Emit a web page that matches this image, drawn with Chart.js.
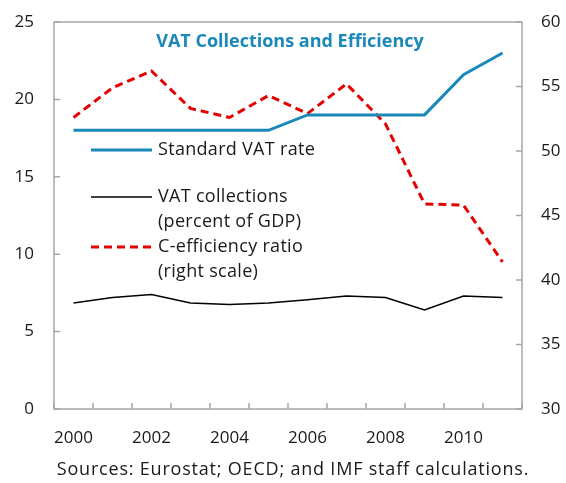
<!DOCTYPE html>
<html>
<head>
<meta charset="utf-8">
<script src="https://cdn.jsdelivr.net/npm/chart.js@4"></script>
<style>
  html, body { margin: 0; padding: 0; background: #fff; }
  #wrap { width: 566px; height: 483px; }
</style>
</head>
<body>
<div id="wrap"><canvas id="vatChart" width="566" height="483"></canvas></div>
<script>
// Years on the horizontal axis
const years = ["2000", "2001", "2002", "2003", "2004", "2005",
               "2006", "2007", "2008", "2009", "2010", "2011"];

// Standard VAT rate, percent (left scale)
const vatRate = [18, 18, 18, 18, 18, 18, 19, 19, 19, 19, 21.6, 23];

// VAT collections, percent of GDP (left scale)
const vatCollections = [6.85, 7.2, 7.4, 6.85, 6.75, 6.85, 7.05, 7.3, 7.2, 6.4, 7.3, 7.2];

// C-efficiency ratio (right scale)
const cEfficiency = [52.6, 54.9, 56.2, 53.3, 52.6, 54.3, 52.9, 55.2, 52.1, 45.9, 45.8, 41.4];

const leftTicks = [0, 5, 10, 15, 20, 25];
const rightTicks = [30, 35, 40, 45, 50, 55, 60];

const BLUE = "#1a88b8";
const RED = "#e30000";
const AXIS = "#a6a6a6";
const FONT = "'Open Sans', sans-serif";

// Frame, inward tick marks, title, legend and source note
const decorations = {
  id: "decorations",
  afterDraw(chart) {
    const { ctx, chartArea: a, scales } = chart;
    ctx.save();

    ctx.strokeStyle = AXIS;
    ctx.lineWidth = 1.5;
    ctx.strokeRect(a.left, a.top, a.right - a.left, a.bottom - a.top);

    ctx.beginPath();
    leftTicks.forEach(v => {
      const y = scales.y.getPixelForValue(v);
      ctx.moveTo(a.left, y); ctx.lineTo(a.left + 6, y);
    });
    rightTicks.forEach(v => {
      const y = scales.y1.getPixelForValue(v);
      ctx.moveTo(a.right, y); ctx.lineTo(a.right - 6, y);
    });
    const half = (scales.x.getPixelForValue(1) - scales.x.getPixelForValue(0)) / 2;
    for (let i = 0; i <= years.length; i++) {
      const x = scales.x.getPixelForValue(i) - half;
      ctx.moveTo(x, a.bottom); ctx.lineTo(x, a.bottom - 6);
    }
    ctx.stroke();

    // title inside the plot
    ctx.fillStyle = BLUE;
    ctx.font = "bold 18px " + FONT;
    ctx.textAlign = "center";
    ctx.textBaseline = "middle";
    ctx.fillText("VAT Collections and Efficiency", (a.left + a.right) / 2 + 2, 42);

    // legend
    const rows = [
      { ds: 0, y: 150, lines: ["Standard VAT rate"] },
      { ds: 1, y: 197, lines: ["VAT collections", "(percent of GDP)"] },
      { ds: 2, y: 247, lines: ["C-efficiency ratio", "(right scale)"] }
    ];
    ctx.textAlign = "left";
    ctx.font = "18px " + FONT;
    ctx.letterSpacing = "0.3px";
    rows.forEach(r => {
      const ds = chart.data.datasets[r.ds];
      ctx.beginPath();
      ctx.strokeStyle = ds.borderColor;
      ctx.lineWidth = ds.borderWidth;
      ctx.setLineDash(ds.borderDash || []);
      ctx.moveTo(91, r.y); ctx.lineTo(152, r.y);
      ctx.stroke();
      ctx.setLineDash([]);
      ctx.fillStyle = "#1a1a1a";
      r.lines.forEach((t, i) => ctx.fillText(t, 158, r.y + i * 25));
    });

    // source note
    ctx.textAlign = "center";
    ctx.letterSpacing = "0.8px";
    ctx.fillText("Sources: Eurostat; OECD; and IMF staff calculations.", 293, 470);
    ctx.restore();
  }
};

// keep the value axes from pushing the plot area down
const noEdgePadding = s => {
  s.paddingTop = 0;
  s.paddingBottom = 0;
};

const ctx = document.getElementById("vatChart").getContext("2d");
new Chart(ctx, {
  type: "line",
  data: {
    labels: years,
    datasets: [
      {
        label: "Standard VAT rate",
        data: vatRate,
        borderColor: BLUE,
        borderWidth: 3,
        yAxisID: "y"
      },
      {
        label: "VAT collections (percent of GDP)",
        data: vatCollections,
        borderColor: "#000000",
        borderWidth: 1.5,
        yAxisID: "y"
      },
      {
        label: "C-efficiency ratio (right scale)",
        data: cEfficiency,
        borderColor: RED,
        borderWidth: 3,
        borderDash: [8, 5],
        yAxisID: "y1"
      }
    ]
  },
  options: {
    responsive: false,
    animation: false,
    layout: { padding: { top: 22, left: 0, right: 0, bottom: 0 } },
    elements: {
      point: { radius: 0 },
      line: { tension: 0, fill: false }
    },
    plugins: {
      legend: { display: false },
      tooltip: { enabled: false }
    },
    scales: {
      x: {
        offset: true,
        grid: { display: false, drawTicks: false },
        border: { display: false },
        afterFit: s => { s.height = 74; },
        ticks: {
          autoSkip: false,
          maxRotation: 0,
          padding: 19,
          color: "#1a1a1a",
          font: { family: FONT, size: 17 },
          callback: (v, i) => (i % 2 === 0 ? years[i] : "")
        }
      },
      y: {
        position: "left",
        min: 0,
        max: 25,
        grid: { display: false, drawTicks: false },
        border: { display: false },
        afterFit: s => { s.width = 54; noEdgePadding(s); },
        ticks: {
          stepSize: 5,
          padding: 20,
          color: "#1a1a1a",
          font: { family: FONT, size: 17 }
        }
      },
      y1: {
        position: "right",
        min: 30,
        max: 60,
        grid: { display: false, drawTicks: false },
        border: { display: false },
        afterFit: s => { s.width = 44; noEdgePadding(s); },
        ticks: {
          stepSize: 5,
          padding: 19,
          color: "#1a1a1a",
          font: { family: FONT, size: 17 }
        }
      }
    }
  },
  plugins: [decorations]
});
</script>
</body>
</html>
